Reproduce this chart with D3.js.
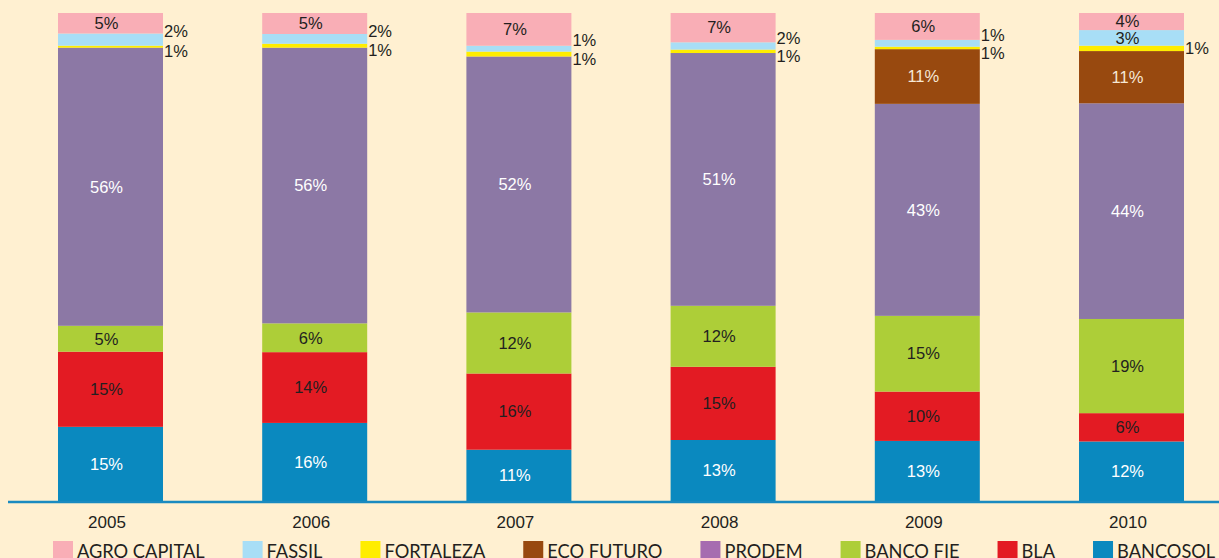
<!DOCTYPE html>
<html lang="es">
  <head>
    <meta charset="UTF-8" />
    <title>Participación por entidad</title>
    <style type="text/css">
      body {
        margin: 0;
        background: #fff0d1;
      }
      .lbl {
        font-family: "Liberation Sans", Arial, sans-serif;
        font-size: 16.5px;
      }
      .year text {
        font-family: "Liberation Sans", Arial, sans-serif;
        font-size: 17px;
        fill: #231f20;
      }
      .legend text {
        font-family: Lato, "Noto Sans", sans-serif;
        font-size: 19px;
        fill: #231f20;
      }
    </style>
  </head>
  <body>
    <div id="chart"></div>
    <script src="https://d3js.org/d3.v7.min.js"></script>
    <script>
      // categories
      var years = ["2005", "2006", "2007", "2008", "2009", "2010"];

      // shares (percent), bottom to top
      var bancosol = [15.2, 16.0, 10.5, 12.5, 12.3, 12.2];
      var bla = [15.4, 14.5, 15.6, 15.0, 10.1, 5.8];
      var bancoFie = [5.3, 5.9, 12.5, 12.5, 15.5, 19.3];
      var prodem = [57.0, 56.5, 52.4, 51.8, 43.4, 44.2];
      var ecoFuturo = [0, 0, 0, 0, 11.2, 10.7];
      var fortaleza = [0.4, 0.8, 1.0, 0.7, 0.5, 1.1];
      var fassil = [2.5, 2.0, 1.2, 1.5, 1.4, 3.2];
      var agroCapital = [4.2, 4.3, 6.7, 6.0, 5.5, 3.5];

      // labels printed on the chart
      var bancosolLbl = [15, 16, 11, 13, 13, 12];
      var blaLbl = [15, 14, 16, 15, 10, 6];
      var bancoFieLbl = [5, 6, 12, 12, 15, 19];
      var prodemLbl = [56, 56, 52, 51, 43, 44];
      var ecoFuturoLbl = [null, null, null, null, 11, 11];
      var fortalezaLbl = [1, 1, 1, 1, 1, 1];
      var fassilLbl = [2, 2, 1, 2, 1, 3];
      var agroCapitalLbl = [5, 5, 7, 7, 6, 4];

      var series = [
        { key: "BANCOSOL", values: bancosol, labels: bancosolLbl, color: "#0a89bf", legend: "#0a89bf", text: "#ffffff" },
        { key: "BLA", values: bla, labels: blaLbl, color: "#e31b23", legend: "#e31b23", text: "#231f20" },
        { key: "BANCO FIE", values: bancoFie, labels: bancoFieLbl, color: "#adce38", legend: "#adce38", text: "#231f20" },
        { key: "PRODEM", values: prodem, labels: prodemLbl, color: "#8c78a5", legend: "#a66cb0", text: "#ffffff" },
        { key: "ECO FUTURO", values: ecoFuturo, labels: ecoFuturoLbl, color: "#98490f", legend: "#98490f", text: "#f6e8d6" },
        { key: "FORTALEZA", values: fortaleza, labels: fortalezaLbl, color: "#ffed00", legend: "#ffed00", text: "#231f20" },
        { key: "FASSIL", values: fassil, labels: fassilLbl, color: "#a8def6", legend: "#a8def6", text: "#231f20" },
        { key: "AGRO CAPITAL", values: agroCapital, labels: agroCapitalLbl, color: "#f9aeb6", legend: "#f9aeb6", text: "#231f20" }
      ];
      var keys = series.map(function (s) { return s.key; });

      var rows = years.map(function (yr, i) {
        var r = { year: yr };
        series.forEach(function (s) { r[s.key] = s.values[i]; });
        return r;
      });

      var W = 1219, H = 558;
      var svg = d3.select("#chart").append("svg")
        .attr("width", W).attr("height", H);

      svg.append("rect").attr("width", W).attr("height", H).attr("fill", "#fff0d1");

      var barW = 105;
      var x = d3.scalePoint().domain(years).range([110.5, 1131.5]);
      var y = d3.scaleLinear().domain([0, 1]).range([501, 13]);

      var stacked = d3.stack().keys(keys).offset(d3.stackOffsetExpand)(rows);

      var layer = svg.selectAll(".layer")
        .data(stacked)
        .enter().append("g")
        .attr("class", "layer")
        .attr("fill", function (d, i) { return series[i].color; });

      layer.selectAll("rect")
        .data(function (d) { return d; })
        .enter().append("rect")
        .attr("x", function (d) { return x(d.data.year) - barW / 2; })
        .attr("width", barW)
        .attr("y", function (d) { return y(d[1]); })
        .attr("height", function (d) { return y(d[0]) - y(d[1]); });

      // value labels
      var fassilLayer = stacked[keys.indexOf("FASSIL")];
      stacked.forEach(function (lay, si) {
        var s = series[si];
        lay.forEach(function (d, i) {
          var lab = s.labels[i];
          if (lab == null) return;
          var top = y(d[1]), bot = y(d[0]);
          var h = bot - top, mid = (top + bot) / 2;
          var cx = x(d.data.year);
          var t = svg.append("text").attr("class", "lbl").text(lab + "%");
          var inside = s.key !== "FORTALEZA" && h >= 14;
          if (inside) {
            t.attr("x", cx - 4).attr("y", mid).attr("dy", "0.35em")
              .attr("text-anchor", "middle").attr("fill", s.text);
          } else {
            var off = 0;
            if (s.key === "FASSIL") off = -8;
            if (s.key === "FORTALEZA") {
              var fb = fassilLayer[i];
              off = (y(fb[0]) - y(fb[1]) < 14) ? 5 : 0;
            }
            t.attr("x", cx + barW / 2 + 1).attr("y", mid + off).attr("dy", "0.35em")
              .attr("text-anchor", "start").attr("fill", "#231f20");
          }
        });
      });

      // year axis
      var axis = svg.append("g")
        .attr("class", "year")
        .attr("transform", "translate(-4,502)")
        .call(d3.axisBottom(x).tickSize(0).tickPadding(14));
      axis.select(".domain").remove();
      axis.attr("font-family", null).attr("font-size", null);

      // base line
      svg.append("line")
        .attr("x1", 8).attr("x2", W)
        .attr("y1", 502).attr("y2", 502)
        .attr("stroke", "#1a8ac0").attr("stroke-width", 2.5);

      // legend, top of stack first
      var legend = svg.append("g").attr("class", "legend");
      var lx = 53;
      series.slice().reverse().forEach(function (s) {
        legend.append("rect")
          .attr("x", lx).attr("y", 541)
          .attr("width", 20).attr("height", 20)
          .attr("fill", s.legend);
        var tx = lx + 24;
        var t = legend.append("text")
          .attr("transform", "translate(" + tx + ",557.5) scale(0.96,1)")
          .text(s.key);
        var tw = t.node().getComputedTextLength() * 0.96;
        lx = tx + tw + 38;
      });
    </script>
  </body>
</html>
